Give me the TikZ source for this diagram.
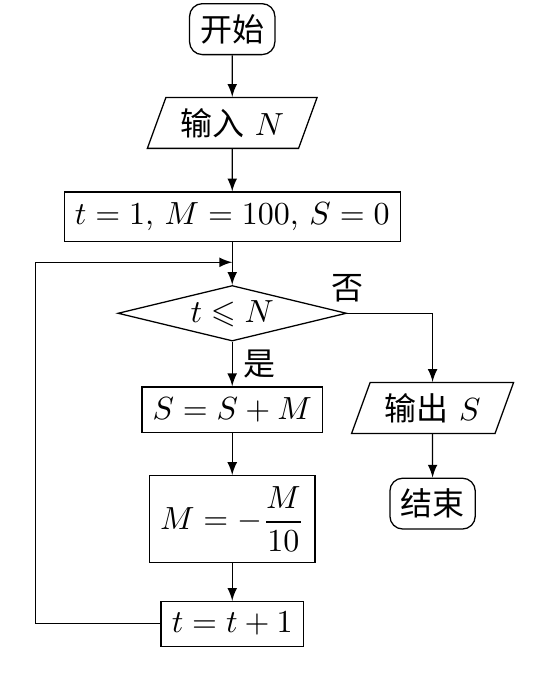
\documentclass[tikz,border=0pt]{standalone}
\usepackage{amsmath,amssymb}
\usepackage{fontspec}
\newfontfamily\cjk{Noto Sans CJK SC}
\usetikzlibrary{shapes.geometric}

\begin{document}
\begin{tikzpicture}[>=latex,
  term/.style = {draw, rounded corners=4pt},
  io/.style = {draw, trapezium, trapezium left angle=70, trapezium right angle=110, inner xsep=4.5pt, minimum height=0.55cm},
  proc/.style = {draw},
  test/.style = {draw, diamond, aspect=4, inner sep=0pt, minimum width=2.51cm, minimum height=0.61cm}]
\pgfmathsetmacro{\r}{2.2} % right column
\pgfmathsetmacro{\l}{-2.16} % loop line
\pgfmathsetmacro{\j}{-2.56} % loop joins here
\useasboundingbox (-2.55,0.32) rectangle (3.40,-7.07);
\node[term] (start) at (0,0) {\cjk 开始};
\node[io] (in) at (0,-1.03) {{\cjk 输入} $N$};
\node[proc] (init) at (0,-2.06) {$t=1$, $M=100$, $S=0$};
\node[test] (test) at (0,-3.12) {$t\leqslant N$};
\node[proc] (sum) at (0,-4.18) {$S=S+M$};
\node[proc] (upd) at (0,-5.38) {$M=-\dfrac{M}{10}$};
\node[proc] (inc) at (0,-6.53) {$t=t+1$};
\node[io] (out) at (\r,-4.16) {{\cjk 输出} $S$};
\node[term] (stop) at (\r,-5.21) {\cjk 结束};
\coordinate (corner) at (\l,\j);
\coordinate (back) at (0,\j);
\draw[->] (start) -- (in);
\draw[->] (in) -- (init);
\draw[->] (init) -- (test);
\draw[->] (test) -- node[right] {\cjk 是} (sum);
\draw[->] (sum) -- (upd);
\draw[->] (upd) -- (inc);
\draw[->] (test.east) node[above] {\cjk 否} -| (out);
\draw[->] (out) -- (stop);
\draw[->] (inc.west) -| (corner) -- (back);
\end{tikzpicture}
\end{document}
